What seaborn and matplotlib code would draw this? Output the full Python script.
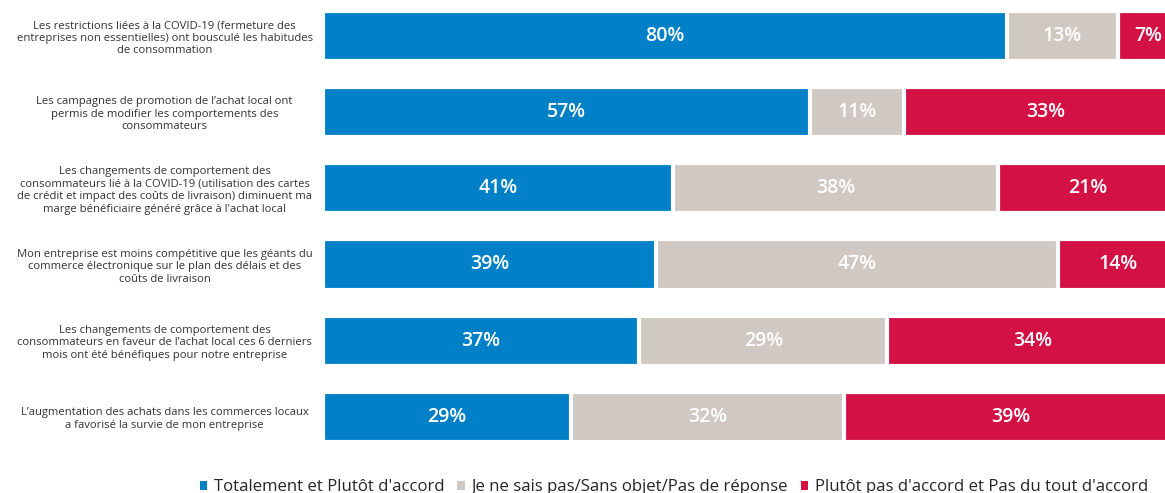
import matplotlib
matplotlib.use("Agg")
import matplotlib.pyplot as plt
import seaborn as sns
import pandas as pd
import numpy as np
from matplotlib.patches import Patch

statements = [
    "Les restrictions liées à la COVID-19 (fermeture des\nentreprises non essentielles) ont bousculé les habitudes\nde consommation",
    "Les campagnes de promotion de l’achat local ont\npermis de modifier les comportements des\nconsommateurs",
    "Les changements de comportement des\nconsommateurs lié à la COVID-19 (utilisation des cartes\nde crédit et impact des coûts de livraison) diminuent ma\nmarge bénéficiaire généré grâce à l'achat local",
    "Mon entreprise est moins compétitive que les géants du\ncommerce électronique sur le plan des délais et des\ncoûts de livraison",
    "Les changements de comportement des\nconsommateurs en faveur de l’achat local ces 6 derniers\nmois ont été bénéfiques pour notre entreprise",
    "L’augmentation des achats dans les commerces locaux\na favorisé la survie de mon entreprise",
]
agree = [80, 57, 41, 39, 37, 29]
dontknow = [13, 11, 38, 47, 29, 32]
disagree = [7, 33, 21, 14, 34, 39]
series_names = ["Totalement et Plutôt d'accord",
                "Je ne sais pas/Sans objet/Pas de réponse",
                "Plutôt pas d'accord et Pas du tout d'accord"]
colors = ["#0080C6", "#D0C8C2", "#D31145"]

sns.set_theme(style="white")
plt.rcParams['font.family'] = ['Open Sans', 'DejaVu Sans']

df = pd.DataFrame({"stmt": statements, "a": agree, "d": dontknow, "n": disagree})
df["c1"] = df["a"]
df["c2"] = df["a"] + df["d"]
df["c3"] = df["a"] + df["d"] + df["n"]

W, H = 1165, 493
fig = plt.figure(figsize=(W / 100, H / 100), dpi=100)
ax = fig.add_axes([323 / W, (H - 455) / H, (1165 - 323) / W, 455 / H])

bw = 0.66
lw = 3.0
for col, c in zip(["c3", "c2", "c1"], colors[::-1]):
    sns.barplot(data=df, x=col, y="stmt", orient="h", color=c, width=bw,
                edgecolor="white", linewidth=lw, saturation=1, ax=ax)

for i, row in df.iterrows():
    starts = [0, row["c1"], row["c2"]]
    vals = [row["a"], row["d"], row["n"]]
    for s, v in zip(starts, vals):
        ax.text(s + v / 2, i, f"{v}%", color="white", ha="center", va="center",
                fontsize=14, fontweight="semibold")

ax.set_xlim(0, 98.5)
ax.set_ylim(5.5, -0.47)
ax.set_xlabel("")
ax.set_ylabel("")
ax.set_xticks([])
for sp in ax.spines.values():
    sp.set_visible(False)
ax.tick_params(axis="y", length=0, pad=114)
for lab in ax.get_yticklabels():
    lab.set_ha("center")
    lab.set_multialignment("center")
    lab.set_fontsize(8.15)
    lab.set_color("#333333")
    lab.set_linespacing(1.2)

handles = [Patch(facecolor=c, edgecolor="none") for c in colors]
fig.legend(handles, series_names, loc="lower center", ncol=3,
           bbox_to_anchor=(674 / W, -0.035), frameon=False, fontsize=12.1,
           handlelength=0.45, handleheight=0.45, handletextpad=0.4,
           columnspacing=0.75)

fig.savefig("out.png", dpi=100)
